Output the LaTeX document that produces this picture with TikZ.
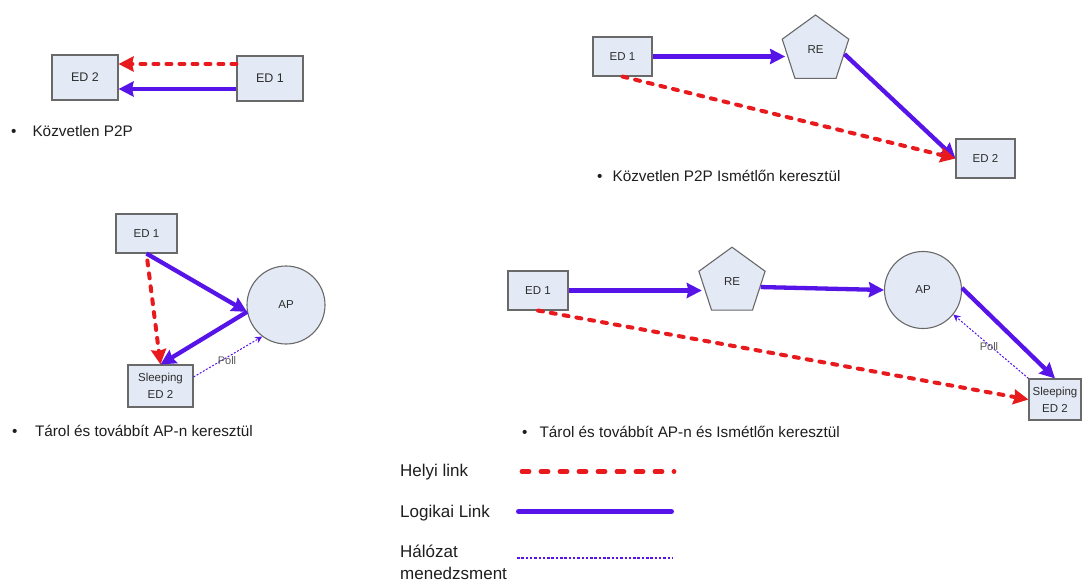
\documentclass[tikz,border=0pt]{standalone}
\usepackage{fontspec}
\setmainfont{Liberation Sans}
\usetikzlibrary{shapes.geometric,arrows.meta,calc}

\definecolor{linkred}{RGB}{232,26,30}
\definecolor{linkblue}{RGB}{86,20,232}
\definecolor{boxfill}{RGB}{228,234,245}
\definecolor{boxline}{RGB}{105,105,105}
\definecolor{labeltext}{RGB}{45,45,45}
\definecolor{captext}{RGB}{30,30,30}

\begin{document}
\begin{tikzpicture}[x=1pt,y=-1pt,
  dev/.style={draw=boxline, line width=1.1pt, fill=boxfill, inner sep=0pt,
              text=labeltext, font=\fontsize{11.5}{17}\selectfont, align=center},
  box/.style={dev, rectangle},
  relay/.style={dev, regular polygon, regular polygon sides=5, minimum size=#1},
  accesspt/.style={dev, circle, minimum size=#1},
  headbig/.style={-{Stealth[length=15pt,width=15pt,inset=1.5pt]}},
  local/.style={draw=linkred, line width=4pt, line cap=round,
                dash pattern=on 5pt off 8pt, headbig},
  logical/.style={draw=linkblue, line width=4.3pt, headbig},
  mgmt/.style={draw=linkblue, line width=1pt, dash pattern=on 2pt off 1.6pt,
               -{Stealth[length=7pt,width=7pt]}},
  caption/.style={inner sep=0pt, anchor=base west, text=captext,
                  font=\fontsize{15.3}{18}\selectfont},
  polltext/.style={inner sep=0pt, text=labeltext!80, font=\fontsize{11}{13}\selectfont},
  legendtext/.style={inner sep=0pt, anchor=base west, text=captext,
                     font=\fontsize{17}{22}\selectfont},
]
\useasboundingbox (0,0) rectangle (1083,585);
\fill[white] (0,0) rectangle (1083,585);

% ---- direct peer to peer ----
\node[box, minimum width=66pt, minimum height=45pt,
      font=\fontsize{12.5}{15}\selectfont] (aEDtwo) at (85,77.5) {ED 2};
\node[box, minimum width=66pt, minimum height=45pt,
      font=\fontsize{12.5}{15}\selectfont] (aEDone) at (270,78.5) {ED 1};
\draw[local] ($(aEDone.west)+(0,-14.5)$) -- ($(aEDtwo.east)+(0,-13.5)$);
\draw[logical] ($(aEDone.west)+(0,10.5)$) -- ($(aEDtwo.east)+(0,11.5)$);
\node[caption] (aCap) at (11,136.5) {\textbullet\hspace{16pt}Közvetlen P2P};

% ---- direct peer to peer through a repeater ----
\node[box, minimum width=59pt, minimum height=39pt] (bEDone) at (622.5,56.5) {ED 1};
\node[relay=70pt] (bRE) at (815.5,50) {RE};
\node[box, minimum width=59pt, minimum height=39pt] (bEDtwo) at (985.5,158.5) {ED 2};
\draw[logical] (bEDone.east) -- (bRE.west |- bEDone.east);
\draw[logical] (bRE.-8) -- (bEDtwo.west);
\draw[local] (bEDone.south) -- (bEDtwo.west);
\node[caption] (bCap) at (597,181.5) {\textbullet\hspace{10pt}Közvetlen P2P Ismétlőn keresztül};

% ---- store and forward via the access point ----
\node[box, minimum width=61pt, minimum height=39pt] (cEDone) at (146.5,233.5) {ED 1};
\node[accesspt=78pt] (cAP) at (286,305) {AP};
\node[box, minimum width=65pt, minimum height=42pt] (cSleep) at (160.5,386) {Sleeping\\ED 2};
\draw[logical] (cEDone.south) -- (cAP.190);
\draw[logical] (cAP.190) -- (cSleep.north);
\draw[local, shorten <=7pt] (cEDone.south) -- (cSleep.north);
\draw[mgmt] ($(cSleep.east)+(0,-9)$) -- (cAP.233);
\node[polltext] (cPoll) at (227,361) {Poll};
\node[caption] (cCap) at (12,436.5) {\textbullet\hspace{17.5pt}Tárol és továbbít AP-n keresztül};

% ---- store and forward via the access point and a repeater ----
\node[box, minimum width=60pt, minimum height=39pt] (dEDone) at (538,290.5) {ED 1};
\node[relay=69.6pt] (dRE) at (732,282) {RE};
\node[accesspt=77pt] (dAP) at (923,290) {AP};
\node[box, minimum width=52pt, minimum height=41pt] (dSleep) at (1055,399.5) {Sleeping\\ED 2};
\draw[logical] (dEDone.east) -- (dRE.west |- dEDone.east);
\draw[logical] (dRE.-10) -- (dAP.west);
\draw[logical] (dAP.3) -- (dSleep.north);
\draw[local] (dEDone.south) -- (dSleep.west);
\draw[mgmt] (dSleep.north west) -- (dAP.-39);
\node[polltext] (dPoll) at (989,347) {Poll};
\node[caption] (dCap) at (522,437.5) {\textbullet\hspace{12pt}Tárol és továbbít AP-n és Ismétlőn keresztül};

% ---- legend ----
\node[legendtext] (lgLocal) at (400,476.5) {Helyi link};
\coordinate (lgLocalA) at (522,471.5);
\coordinate (lgLocalB) at (674,471.5);
\draw[linkred, line width=4.8pt, line cap=round, dash pattern=on 7pt off 12pt]
  (lgLocalA) -- (lgLocalB);

\node[legendtext] (lgLogic) at (400,517) {Logikai Link};
\coordinate (lgLogicA) at (518.5,511.5);
\coordinate (lgLogicB) at (671.5,511.5);
\draw[linkblue, line width=5pt, line cap=round] (lgLogicA) -- (lgLogicB);

\node[legendtext, align=left] (lgMgmt) at (400,579.5) {Hálózat\\menedzsment};
\coordinate (lgMgmtA) at (517,558);
\coordinate (lgMgmtB) at (673,558);
\draw[linkblue, line width=1.8pt, dash pattern=on 2.5pt off 1.8pt] (lgMgmtA) -- (lgMgmtB);
\end{tikzpicture}
\end{document}
